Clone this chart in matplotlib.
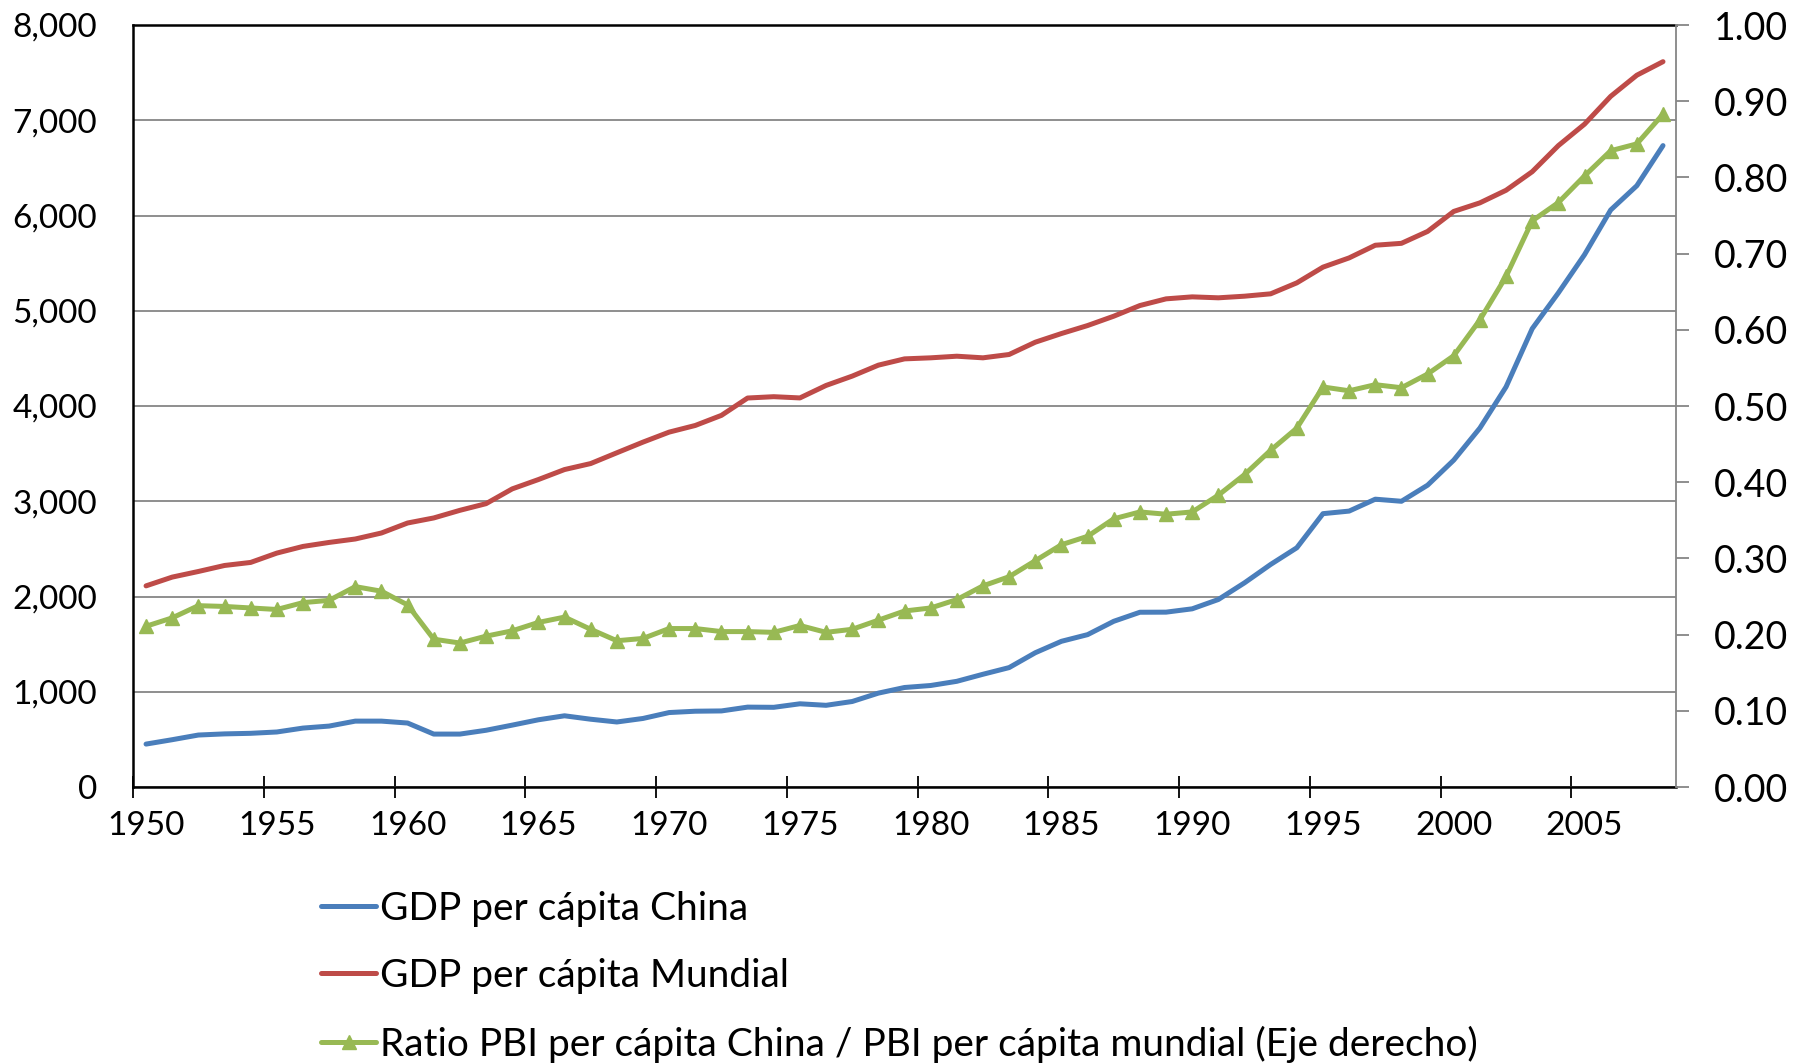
import numpy as np
import matplotlib
matplotlib.use('Agg')
import matplotlib.pyplot as plt
from matplotlib.ticker import FuncFormatter, FixedLocator

plt.rcParams['font.family'] = ['Lato', 'DejaVu Sans']

# years (categories)
years = np.arange(1950, 2009)

# GDP per capita China (left axis)
china = [451, 497, 546, 558, 564, 578, 619, 640, 692, 692,
         672, 556, 556, 596, 650, 706, 748, 712, 683, 720,
         782, 796, 799, 839, 837, 874, 858, 898, 986, 1045,
         1066, 1110, 1184, 1254, 1410, 1530, 1600, 1740, 1835, 1836,
         1871, 1969, 2144, 2337, 2512, 2870, 2897, 3022, 3000, 3169,
         3432, 3769, 4201, 4812, 5188, 5589, 6058, 6313, 6734]

# GDP per capita world (left axis)
world = [2112, 2204, 2263, 2326, 2358, 2456, 2526, 2568, 2604, 2667,
         2772, 2825, 2905, 2975, 3130, 3228, 3333, 3396, 3509, 3621,
         3726, 3796, 3902, 4084, 4098, 4085, 4216, 4314, 4429, 4495,
         4506, 4523, 4506, 4541, 4670, 4761, 4845, 4943, 5055, 5125,
         5146, 5136, 5153, 5178, 5293, 5458, 5555, 5688, 5708, 5833,
         6043, 6133, 6265, 6460, 6734, 6959, 7251, 7473, 7615]

# ratio China / world (right axis)
ratio = [0.211, 0.222, 0.238, 0.237, 0.235, 0.233, 0.242, 0.245, 0.263, 0.257,
         0.239, 0.194, 0.189, 0.198, 0.205, 0.216, 0.223, 0.207, 0.192, 0.195,
         0.208, 0.208, 0.204, 0.204, 0.203, 0.212, 0.203, 0.207, 0.219, 0.231,
         0.235, 0.246, 0.264, 0.276, 0.297, 0.318, 0.329, 0.352, 0.361, 0.358,
         0.361, 0.383, 0.410, 0.442, 0.471, 0.525, 0.520, 0.528, 0.524, 0.542,
         0.566, 0.613, 0.670, 0.743, 0.767, 0.802, 0.835, 0.844, 0.883]

labels = ['GDP per cápita China', 'GDP per cápita Mundial',
          'Ratio PBI per cápita China / PBI per cápita mundial (Eje derecho)']

blue = '#4A7EBB'
red = '#BE4B48'
green = '#98B954'
gridc = '#868686'

fig = plt.figure(figsize=(17.97, 10.64), dpi=100)
ax = fig.add_axes([0.074, 0.2603, 0.8587, 0.7162])
ax2 = ax.twinx()

l1, = ax.plot(years, china, color=blue, lw=3.6, solid_capstyle='round', zorder=3)
l2, = ax.plot(years, world, color=red, lw=3.6, solid_capstyle='round', zorder=3)
l3, = ax2.plot(years, ratio, color=green, lw=3.6, marker='^', ms=10,
               markeredgecolor=green, solid_capstyle='round')

ax.set_xlim(1949.5, 2008.5)
ax.set_ylim(0, 8000)
ax2.set_ylim(0, 1.0)

# x axis: tick marks between categories, labels at the category centre
ax.xaxis.set_major_locator(FixedLocator(np.arange(1949.5, 2008, 5)))
ax.xaxis.set_minor_locator(FixedLocator(np.arange(1950, 2009, 5)))
ax.xaxis.set_major_formatter(FuncFormatter(lambda v, p: ''))
ax.xaxis.set_minor_formatter(FuncFormatter(lambda v, p: '%d' % v))
ax.tick_params(axis='x', which='major', direction='inout', length=16, width=1.3, color='black')
ax.tick_params(axis='x', which='minor', length=0, labelsize=24, pad=17)

ax.set_yticks(np.arange(0, 8001, 1000))
ax.yaxis.set_major_formatter(FuncFormatter(lambda v, p: '{:,.0f}'.format(v)))
ax.tick_params(axis='y', length=0, labelsize=24, pad=26)

ax2.set_yticks(np.arange(0, 1.001, 0.1))
ax2.yaxis.set_major_formatter(FuncFormatter(lambda v, p: '%.2f' % v))
ax2.tick_params(axis='y', direction='out', length=9, width=1.3, color=gridc,
                labelsize=27, pad=18)

ax.grid(axis='y', color=gridc, lw=1.3)
ax.set_axisbelow(True)

for s in ['left', 'bottom', 'top']:
    ax.spines[s].set_color('black')
    ax.spines[s].set_linewidth(1.8)
ax.spines['right'].set_visible(False)
for s in ['left', 'bottom', 'top']:
    ax2.spines[s].set_visible(False)
ax2.spines['right'].set_color(gridc)
ax2.spines['right'].set_linewidth(1.3)

leg = fig.legend([l1, l2, l3], labels, loc='upper left',
                 bbox_to_anchor=(0.1786, 0.163), frameon=False, fontsize=28,
                 handlelength=1.42, handletextpad=0.1, labelspacing=0.81,
                 numpoints=1, borderaxespad=0, borderpad=0)

fig.savefig('out.png', dpi=100)
